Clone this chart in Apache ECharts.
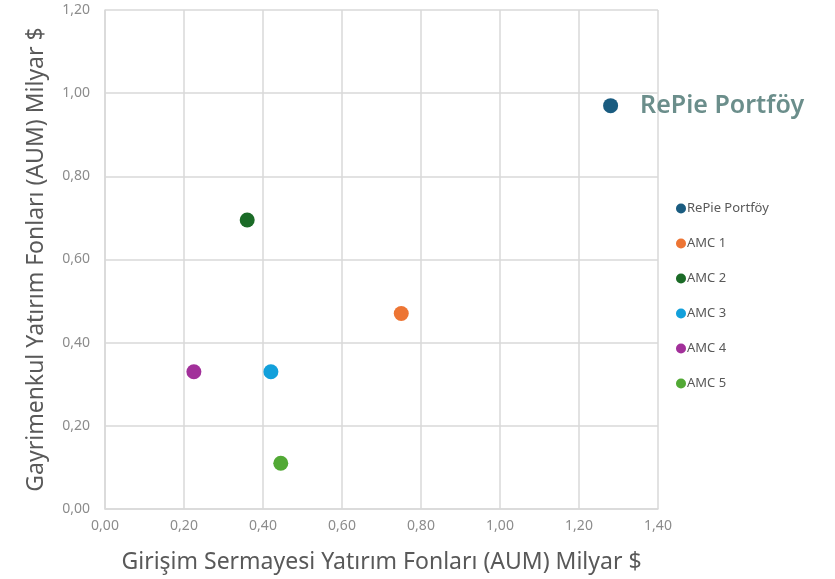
<!DOCTYPE html>
<html>
<head>
<meta charset="utf-8">
<script src="https://cdn.jsdelivr.net/npm/echarts@6/dist/echarts.min.js"></script>
<style>
  html, body { margin: 0; padding: 0; background: #fff; }
  #chart { width: 835px; height: 579px; }
</style>
</head>
<body>
<div id="chart"></div>
<script>
const names = ['RePie Portföy', 'AMC 1', 'AMC 2', 'AMC 3', 'AMC 4', 'AMC 5']
const ventureAum = [1.28, 0.75, 0.36, 0.42, 0.225, 0.445]
const realEstateAum = [0.97, 0.47, 0.695, 0.33, 0.33, 0.11]
const colors = ['#1a5c80', '#ed7534', '#1b6b27', '#12a0db', '#a2309a', '#52a935']

const fmt = v => v.toFixed(2).replace('.', ',')
const font = '"Noto Sans", sans-serif'

const chart = echarts.init(document.getElementById('chart'))

const series = names.map((n, i) => ({
  name: n,
  type: 'scatter',
  symbolSize: 15,
  itemStyle: { color: colors[i], opacity: 1 },
  data: [[ventureAum[i], realEstateAum[i]]],
  label: i === 0 ? {
    show: true,
    position: 'right',
    distance: 22,
    formatter: n,
    color: '#6b8e8b',
    fontSize: 25,
    fontWeight: 600,
    fontFamily: font
  } : { show: false }
}))

chart.setOption({
  animation: false,
  grid: { left: 105, right: 177, top: 10, bottom: 70 },
  legend: {
    orient: 'vertical',
    left: 671,
    top: 197,
    icon: 'circle',
    itemWidth: 10,
    itemHeight: 10,
    itemGap: 22,
    textStyle: { color: '#595959', fontSize: 13, fontFamily: font, padding: [0, 0, 0, -4] },
    data: names
  },
  xAxis: {
    type: 'value',
    min: 0,
    max: 1.4,
    interval: 0.2,
    name: 'Girişim Sermayesi Yatırım Fonları (AUM) Milyar $',
    nameLocation: 'middle',
    nameGap: 42,
    nameTextStyle: { color: '#595959', fontSize: 23, fontFamily: font },
    axisLine: { lineStyle: { color: '#d9d9d9', width: 1.5 } },
    axisTick: { show: false },
    splitLine: { lineStyle: { color: '#d9d9d9', width: 1.5 } },
    axisLabel: { formatter: fmt, color: '#8c8c8c', fontSize: 14, margin: 10, fontFamily: font }
  },
  yAxis: {
    type: 'value',
    min: 0,
    max: 1.2,
    interval: 0.2,
    name: 'Gayrimenkul Yatırım Fonları (AUM) Milyar $',
    nameLocation: 'middle',
    nameGap: 57,
    nameTextStyle: { color: '#595959', fontSize: 23, fontFamily: font },
    axisLine: { show: true, lineStyle: { color: '#d9d9d9', width: 1.5 } },
    axisTick: { show: false },
    splitLine: { lineStyle: { color: '#d9d9d9', width: 1.5 } },
    axisLabel: { formatter: fmt, color: '#8c8c8c', fontSize: 14, margin: 15, fontFamily: font }
  },
  series: series
})
</script>
</body>
</html>
